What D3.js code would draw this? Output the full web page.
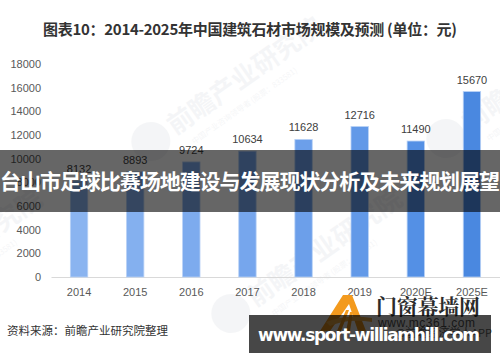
<!DOCTYPE html>
<html>
<head>
<meta charset="utf-8">
<script src="https://cdn.jsdelivr.net/npm/d3@7"></script>
<style>
  body { margin: 0; background: #fff; }
  text { font-family: "Liberation Sans", "Noto Sans CJK SC", sans-serif; }
  .cjk { font-family: "Noto Sans CJK SC", sans-serif; }
</style>
</head>
<body>
<script>
// chart data
var years = ['2014', '2015', '2016', '2017', '2018', '2019', '2020E', '2025E'];
var values = [8132, 8893, 9724, 10634, 11628, 12716, 11490, 15670];
var barColors = ['#8ab4f0', '#84b0ef', '#7dabee', '#76a6ed', '#6c9fea', '#6299e8', '#5490e5', '#4a88e0'];
var yTicks = [0, 2000, 4000, 6000, 8000, 10000, 12000, 14000, 16000, 18000];

var WIDTH = 500, HEIGHT = 362;

var svg = d3.select('body').append('svg')
  .attr('width', WIDTH)
  .attr('height', HEIGHT);

svg.append('rect').attr('width', WIDTH).attr('height', HEIGHT).attr('fill', '#fff');

// faint watermarks
function watermark(x, y, size) {
  var g = svg.append('g')
    .attr('transform', 'translate(' + x + ',' + y + ') rotate(-35)')
    .attr('opacity', 0.06);
  g.append('circle').attr('cx', -size * 0.9).attr('cy', 0).attr('r', size * 0.75).attr('fill', '#5a6b80');
  g.append('text').attr('class', 'cjk').attr('x', 0).attr('y', size * 0.35)
    .style('font-size', size + 'px').style('font-weight', 'bold').attr('fill', '#5a6b80')
    .text('前瞻产业研究院');
  g.append('text').attr('class', 'cjk').attr('x', size * 0.4).attr('y', size * 1.05)
    .style('font-size', (size * 0.3) + 'px').attr('fill', '#5a6b80')
    .text('中国产业咨询领导者 (股票：833581)');
}
watermark(170, 128, 26);
watermark(-110, 300, 26);
watermark(250, 300, 26);
watermark(465, 125, 26);

var y = d3.scaleLinear().domain([0, 18000]).range([277, 64]);
var x = d3.scaleBand().domain(years).range([51, 500])
  .paddingInner(0.69).paddingOuter(0.345);

// y axis labels
var yAxis = svg.append('g')
  .attr('transform', 'translate(41,0)')
  .call(d3.axisLeft(y).tickValues(yTicks).tickSize(0).tickPadding(0).tickFormat(d3.format('d')));
yAxis.select('.domain').remove();
yAxis.selectAll('text')
  .style('font-size', '11px')
  .attr('fill', '#595959');

// x axis
var xAxis = svg.append('g')
  .attr('transform', 'translate(0,277)')
  .call(d3.axisBottom(x).tickSize(0).tickPadding(11));
xAxis.select('.domain').attr('stroke', '#d9d9d9').attr('stroke-width', 1.2);
xAxis.selectAll('text')
  .style('font-size', '11px')
  .attr('fill', '#595959');

// bars
svg.selectAll('.bar')
  .data(values)
  .enter()
  .append('rect')
  .attr('class', 'bar')
  .attr('x', function (d, i) { return x(years[i]); })
  .attr('y', function (d) { return y(d); })
  .attr('width', x.bandwidth())
  .attr('height', function (d) { return y(0) - y(d); })
  .attr('fill', function (d, i) { return barColors[i]; })
  .attr('stroke', '#b9d2f6')
  .attr('stroke-width', 0.8);

// value labels
svg.selectAll('.val')
  .data(values)
  .enter()
  .append('text')
  .attr('class', 'val')
  .attr('x', function (d, i) { return x(years[i]) + x.bandwidth() / 2; })
  .attr('y', function (d) { return y(d) - 8; })
  .attr('text-anchor', 'middle')
  .style('font-size', '11px')
  .attr('fill', '#404040')
  .text(function (d) { return d; });

// title
svg.append('text')
  .attr('class', 'cjk')
  .attr('x', 250)
  .attr('y', 35)
  .attr('text-anchor', 'middle')
  .attr('textLength', 414)
  .style('font-size', '15px')
  .style('font-weight', 'bold')
  .attr('fill', '#333')
  .text('图表10：2014-2025年中国建筑石材市场规模及预测 (单位：元)');

// source note
svg.append('text')
  .attr('class', 'cjk')
  .attr('x', 7)
  .attr('y', 335)
  .style('font-size', '11.5px')
  .attr('fill', '#333')
  .text('资料来源：前瞻产业研究院整理');

// site logo bottom right
var logo = svg.append('g');
logo.append('path')
  .attr('d', 'M320,331 L343,295 L352,295 L366,331 L358,331 L349,304 L330,331 Z')
  .attr('fill', '#f39a1e');
logo.append('path')
  .attr('d', 'M326,322 Q345,314 372,318 L372,322 Q348,318 330,326 Z')
  .attr('fill', '#f7b24a');
logo.append('path')
  .attr('d', 'M337,331 L346,310 L349,310 L341,331 Z M346,331 L350,312 L353,312 L350,331 Z')
  .attr('fill', '#f39a1e');
logo.append('text')
  .attr('class', 'cjk')
  .attr('x', 376)
  .attr('y', 314)
  .attr('textLength', 104)
  .style('font-size', '21px')
  .style('font-family', '"Noto Serif CJK SC", "Noto Sans CJK SC", serif')
  .style('font-weight', 'bold')
  .attr('fill', '#2b2b2b')
  .text('门窗幕墙网');
logo.append('text')
  .attr('x', 378)
  .attr('y', 327)
  .attr('textLength', 97)
  .style('font-size', '12px')
  .attr('fill', '#555')
  .text('www.mc361.com');
logo.append('text')
  .attr('class', 'cjk')
  .attr('x', 395)
  .attr('y', 337)
  .style('font-size', '11px')
  .attr('fill', '#666')
  .text('@前瞻经济学人APP');

// overlay band with heading
svg.append('rect')
  .attr('x', 0).attr('y', 150)
  .attr('width', WIDTH).attr('height', 62)
  .attr('fill', '#000')
  .attr('fill-opacity', 0.6);
svg.append('text')
  .attr('class', 'cjk')
  .attr('x', 250)
  .attr('y', 189)
  .attr('text-anchor', 'middle')
  .attr('textLength', 500)
  .style('font-size', '21px')
  .style('font-weight', 'bold')
  .attr('fill', '#fff')
  .text('台山市足球比赛场地建设与发展现状分析及未来规划展望');

// overlay box with url
svg.append('rect')
  .attr('x', 249).attr('y', 315)
  .attr('width', 242).attr('height', 38)
  .attr('fill', '#000')
  .attr('fill-opacity', 0.72);
svg.append('text')
  .attr('x', 258)
  .attr('y', 341)
  .attr('textLength', 222)
  .style('font-family', '"DejaVu Sans", sans-serif')
  .style('font-size', '17px')
  .style('font-weight', 'bold')
  .attr('fill', '#fff')
  .text('www.sport-williamhill.com');
</script>
</body>
</html>
